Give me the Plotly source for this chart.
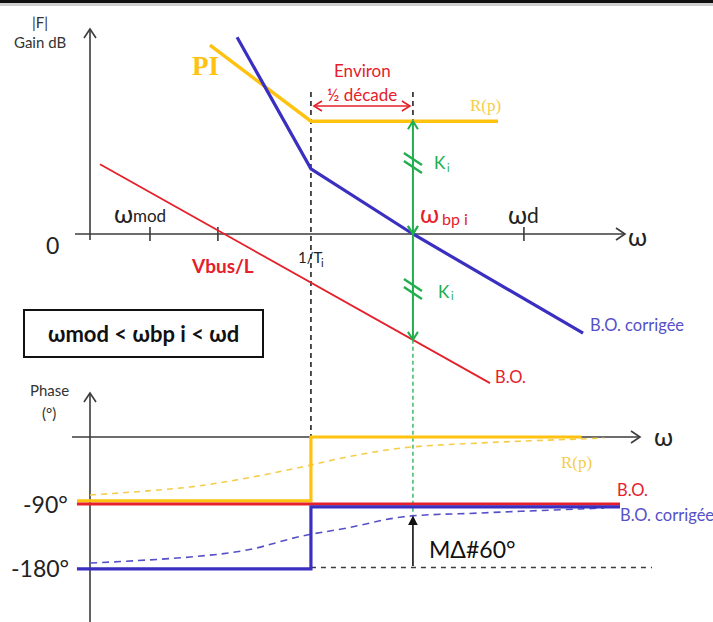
import numpy as np
import plotly.graph_objects as go

# ---------------- data ----------------
# x : log-frequency, in decades measured from the vertical axis
# gain in dB, phase in degrees
W_MOD = 0.294      # ωmod
W_VBUS = 0.627     # Vbus/L crossing
W_TI = 1.083       # 1/Ti
W_BP = 1.583       # ωbp i  (about half a decade after 1/Ti)
W_D = 2.127        # ωd

# gain (asymptotic) curves
bo_gain_x = [0.049, 1.961]
bo_gain_db = [12.3, -26.3]
boc_gain_x = [0.721, W_TI, W_BP, 2.417]
boc_gain_db = [34.7, 11.5, 0.0, -17.5]
pi_gain_x = [0.588, W_TI, 2.000]
pi_gain_db = [33.3, 19.9, 19.9]

# phase (asymptotic) curves
pi_phase_x = [-0.064, W_TI, W_TI, 2.410]
pi_phase_deg = [-87.5, -87.5, 0.0, 0.0]
bo_phase_x = [-0.064, 2.598]
bo_phase_deg = [-91.5, -91.5]
boc_phase_x = [-0.064, W_TI, W_TI, 2.598]
boc_phase_deg = [-180.5, -180.5, -95.5, -95.5]

# real phase curves (dashed)
real_x = [0.0, 0.49, 0.77, 1.04, 1.26, 1.53, 1.91, 2.40, 2.52]
pi_real_deg = [-79.3, -68.4, -56.1, -41.0, -27.4, -15.0, -8.2, -2.7, -1.4]
boc_real_deg = [-172.4, -164.2, -154.6, -135.4, -124.5, -109.4, -104.0, -98.5, -97.1]

# ---------------- scales ----------------
W, H = 713, 622
XS, GS, PS = 204.0, 5.67, 0.731        # px per decade, per dB, per degree
X0, G0, P0 = 90, 234, 437              # pixel of x=0, 0 dB, 0°

YELLOW = "#FFC20E"
YELLOW_L = "#F6CD4A"
BLUE = "#3A2FC0"
BLUE_L = "#5550C8"
RED = "#E5202A"
GREEN = "#22AE4E"
AX = "#3C3C3C"
SANS = "Lato, 'Open Sans', sans-serif"
SERIF = "'Liberation Serif', 'DejaVu Serif', serif"

fig = go.Figure()


def line(x, y, color, width, yaxis="y", dash=None, shape="linear"):
    fig.add_trace(go.Scatter(x=list(x), y=list(y), mode="lines", yaxis=yaxis,
                             hoverinfo="skip", showlegend=False,
                             line=dict(color=color, width=width, dash=dash, shape=shape)))


def sx(px):
    return px / XS


def sg(px):
    return px / GS


def sp(px):
    return px / PS


def chevron(x, y, direction, color, width, yaxis="y", L=9, S=6):
    s = sg if yaxis == "y" else sp
    if direction == "right":
        xs, ys = [x - sx(L), x, x - sx(L)], [y + s(S), y, y - s(S)]
    elif direction == "left":
        xs, ys = [x + sx(L), x, x + sx(L)], [y + s(S), y, y - s(S)]
    elif direction == "up":
        xs, ys = [x - sx(S), x, x + sx(S)], [y - s(L), y, y - s(L)]
    else:
        xs, ys = [x - sx(S), x, x + sx(S)], [y + s(L), y, y + s(L)]
    line(xs, ys, color, width, yaxis)


anns = []


def text(px, py, s, size, color="#222", family=SANS, xanchor="center", bold=False):
    anns.append(dict(x=px / W, y=1 - py / H, xref="paper", yref="paper", text=s,
                     showarrow=False, xanchor=xanchor, yanchor="middle",
                     font=dict(size=size, color=color, family=family,
                               weight="bold" if bold else "normal")))


# ---------------- gain part ----------------
line([0, 0], [sg(-6), sg(205)], AX, 1.6)
chevron(0, sg(205), "up", AX, 1.6)
x_axis_end = sx(625 - X0)
line([sx(75 - X0), x_axis_end], [0, 0], AX, 1.6)
chevron(x_axis_end, 0, "right", AX, 1.6)
for t in [W_MOD, W_VBUS, W_D]:
    line([t, t], [sg(7), sg(-7)], AX, 1.6)

# dashed construction lines
gain_ti_top = sg(G0 - 92)
line([W_TI, W_TI], [gain_ti_top, sg(G0 - P0)], AX, 1.8, dash="5px,4px")
line([W_BP, W_BP], [gain_ti_top, pi_gain_db[-1]], AX, 1.8, dash="5px,4px")

# "½ décade" double arrow
y_dec = sg(G0 - 106)
line([W_TI + sx(3), W_BP - sx(3)], [y_dec, y_dec], RED, 1.6)
chevron(W_TI + sx(3), y_dec, "left", RED, 1.6, L=8, S=5)
chevron(W_BP - sx(3), y_dec, "right", RED, 1.6, L=8, S=5)

# curves
line(bo_gain_x, bo_gain_db, RED, 1.8)
line(pi_gain_x, pi_gain_db, YELLOW, 3.5)
line(boc_gain_x, boc_gain_db, BLUE, 3.2)

# green Ki arrows
bo_at_bp = float(np.interp(W_BP, bo_gain_x, bo_gain_db))
pi_at_bp = pi_gain_db[-1]
line([W_BP, W_BP], [pi_at_bp, bo_at_bp], GREEN, 2)
chevron(W_BP, pi_at_bp, "up", GREEN, 2, L=8, S=5)
chevron(W_BP, 0, "down", GREEN, 2, L=8, S=5)
chevron(W_BP, 0, "up", GREEN, 2, L=-8, S=5)
chevron(W_BP, bo_at_bp, "down", GREEN, 2, L=8, S=5)
for cg in [sg(G0 - 163), sg(G0 - 289)]:
    for off in [-4, 4]:
        line([W_BP - sx(9), W_BP + sx(9)], [cg + sg(6 - off), cg - sg(6 + off)], GREEN, 2.4)

# ---------------- phase part ----------------
line([0, 0], [sp(P0 - H), sp(P0 - 393)], AX, 1.6, yaxis="y2")
chevron(0, sp(P0 - 393), "up", AX, 1.6, yaxis="y2")
ph_axis_end = sx(640 - X0)
line([sx(72 - X0), ph_axis_end], [0, 0], AX, 1.6, yaxis="y2")
chevron(ph_axis_end, 0, "right", AX, 1.6, yaxis="y2")

# -180° reference (dashed)
line([W_TI, sx(652 - X0)], [-178.5, -178.5], AX, 1.5, yaxis="y2", dash="5px,5px")

# green dashed link from the gain plot down to the corrected phase
boc_real_at_bp = float(np.interp(W_BP, real_x, boc_real_deg))
line([W_BP, W_BP], [sp(P0 - (G0 - GS * bo_at_bp)), boc_real_at_bp], GREEN, 1.3,
     yaxis="y2", dash="4px,3px")

# real curves
line(real_x, pi_real_deg, YELLOW_L, 1.6, yaxis="y2", dash="6px,5px", shape="spline")
line(real_x, boc_real_deg, BLUE_L, 1.6, yaxis="y2", dash="7px,5px", shape="spline")

# asymptotic curves
line(pi_phase_x, pi_phase_deg, YELLOW, 3.2, yaxis="y2")
line(bo_phase_x, bo_phase_deg, RED, 3, yaxis="y2")
line(boc_phase_x, boc_phase_deg, BLUE, 3.2, yaxis="y2")

# phase margin arrow
anns.append(dict(x=W_BP, y=boc_real_at_bp + sp(1), xref="x", yref="y2",
                 ax=W_BP, ay=-178.5, axref="x", ayref="y2", showarrow=True,
                 arrowhead=2, arrowsize=1.2, arrowwidth=1.6, arrowcolor="#111", text=""))

# ---------------- texts ----------------
text(40, 22, "|F|", 15, "#333")
text(40, 42, "Gain dB", 15, "#333")
text(205, 66, "PI", 27, YELLOW, SERIF, bold=True)
text(362, 71, "Environ", 17, RED)
text(362, 94, "½ décade", 17, RED)
text(485, 106, "R(p)", 17, YELLOW_L, SERIF)
# Ki labels
text(440, 163, "K", 17, GREEN)
text(445, 167, "i", 11, GREEN, xanchor="left")
text(444, 291, "K", 17, GREEN)
text(449, 295, "i", 11, GREEN, xanchor="left")
# ω labels (glyph + index)
text(429, 213, "ω", 25, RED)
text(440, 218, "bp i", 16, RED, xanchor="left")
text(517, 214, "ω", 25, "#222")
text(525, 214, "d", 21, "#222", xanchor="left")
text(123, 213, "ω", 25, "#222")
text(131, 215, "mod", 17, "#222", xanchor="left")
text(52, 245, "0", 23, "#222")
text(222, 265, "Vbus/L", 19, RED, bold=True)
# 1/Ti
text(310, 257, "1/T", 15, "#222")
text(319, 262, "i", 11, "#222", xanchor="left")
text(637, 236, "ω", 25, "#222")
text(588, 325, "B.O. corrigée", 16.5, BLUE_L, xanchor="left")
text(493, 377, "B.O.", 16.5, RED, xanchor="left")
text(143, 333, "ωmod &lt; ωbp i &lt; ωd", 22, "#111", bold=True)
text(49, 390, "Phase", 15, "#333")
text(49, 413, "(°)", 15, "#333")
text(45, 504, "-90°", 23, "#222")
text(40, 568, "-180°", 23, "#222")
text(663, 436, "ω", 25, "#222")
text(576, 462, "R(p)", 17, YELLOW_L, SERIF)
text(632, 490, "B.O.", 16.5, RED)
text(618, 515, "B.O. corrigée", 16.5, BLUE_L, xanchor="left")
text(472, 549, "MΔ#60°", 23, "#111")

shapes = [
    dict(type="rect", xref="paper", yref="paper", x0=0, x1=1, y0=1 - 3 / H, y1=1,
         fillcolor="#111", line=dict(width=0)),
    dict(type="rect", xref="paper", yref="paper", x0=0, x1=1, y0=1 - 6 / H, y1=1 - 3 / H,
         fillcolor="#cfcfcf", line=dict(width=0)),
    dict(type="rect", xref="paper", yref="paper", x0=24 / W, x1=263 / W,
         y0=1 - 357 / H, y1=1 - 310 / H, line=dict(color="#111", width=2)),
]

fig.update_layout(
    width=W, height=H, margin=dict(l=0, r=0, t=0, b=0),
    paper_bgcolor="white", plot_bgcolor="white", showlegend=False,
    xaxis=dict(range=[-X0 / XS, (W - X0) / XS], visible=False, fixedrange=True),
    yaxis=dict(range=[-(H - G0) / GS, G0 / GS], visible=False, fixedrange=True),
    yaxis2=dict(range=[-(H - P0) / PS, P0 / PS], visible=False, overlaying="y",
                fixedrange=True),
    annotations=anns, shapes=shapes,
)

fig.write_html("out.html", config={"displayModeBar": False},
               post_script="document.body.style.margin='0';")
